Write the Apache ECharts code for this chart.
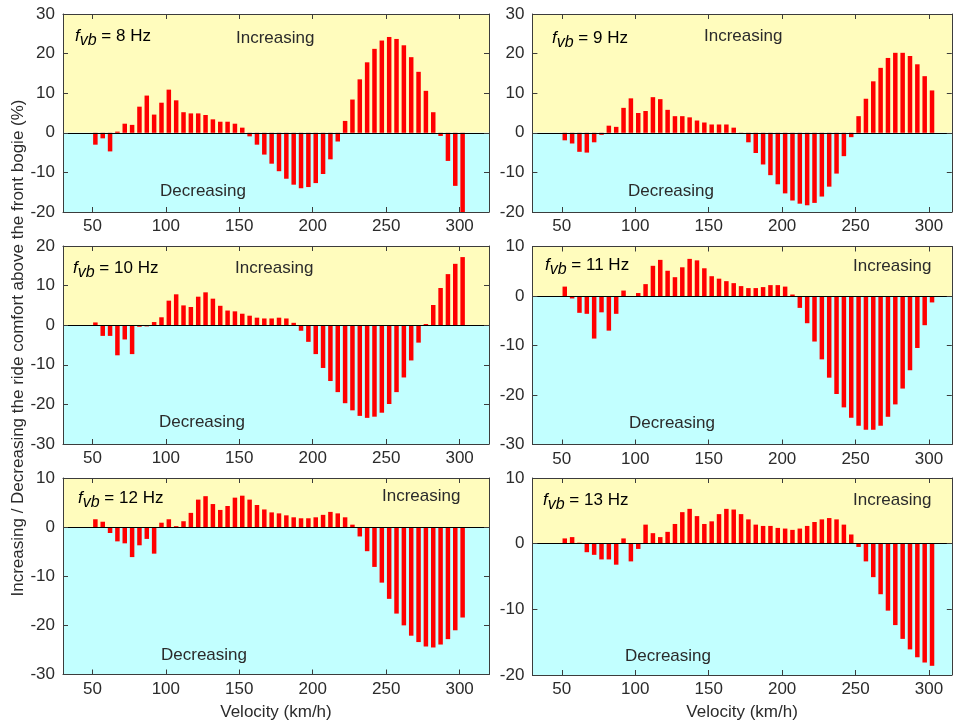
<!DOCTYPE html>
<html><head><meta charset="utf-8">
<script src="https://cdn.jsdelivr.net/npm/echarts@6/dist/echarts.min.js"></script>
<style>html,body{margin:0;padding:0;background:#fff}#c{width:953px;height:721px}</style>
</head><body><div id="c"></div>
<script>
// ---- data ----
const velocity = [50,55,60,65,70,75,80,85,90,95,100,105,110,115,120,125,130,135,140,145,150,155,160,165,170,175,180,185,190,195,200,205,210,215,220,225,230,235,240,245,250,255,260,265,270,275,280,285,290,295,300];
const freqLabels = ['8','9','10','11','12','13'];
const xTickLabels = [50,100,150,200,250,300];
const comfort8 = [-3.0,-1.4,-4.7,0.3,2.3,2.0,6.6,9.4,4.6,7.6,10.9,8.2,5.2,4.9,4.9,4.5,3.4,2.8,2.8,2.3,1.3,-0.9,-3.0,-5.5,-7.8,-9.7,-11.6,-13.1,-14.0,-13.7,-12.7,-10.4,-6.7,-2.2,3.0,8.4,13.5,17.8,21.2,23.3,24.2,23.7,22.1,19.1,15.4,10.6,5.2,-0.8,-7.1,-13.4,-20];
const comfort9 = [-1.9,-2.7,-4.8,-5.0,-2.4,-0.5,1.8,1.5,6.3,8.7,5.0,5.5,9.0,8.5,5.8,4.2,4.2,3.9,3.1,2.6,2.1,2.1,2.1,1.3,-0.3,-2.4,-5.1,-8.0,-10.7,-13.0,-15.3,-17.1,-17.9,-18.3,-17.7,-16.1,-13.6,-10.3,-5.9,-1.1,4.2,8.6,13.0,16.4,18.9,20.2,20.2,19.4,17.3,14.3,10.7];
const comfort10 = [0.7,-2.7,-2.7,-7.6,-3.6,-7.3,-0.4,-0.3,0.8,2.0,6.2,7.8,5.0,4.6,7.2,8.3,6.7,4.9,3.7,3.5,2.9,2.4,1.9,1.7,1.7,1.9,1.7,0.6,-1.4,-4.2,-7.3,-10.8,-14.1,-16.9,-19.7,-21.5,-22.9,-23.4,-23.1,-22.1,-19.9,-16.9,-13.2,-8.9,-4.4,0.3,5.1,9.4,12.9,15.5,17.2];
const comfort11 = [1.9,-0.5,-3.4,-3.6,-8.6,-3.3,-7.0,-3.6,1.1,0,0.6,2.4,6.1,7.3,5.1,3.8,5.8,7.5,7.2,5.6,4.0,3.5,3.0,2.6,2.0,1.6,1.6,1.8,2.2,2.2,1.9,0.3,-2.4,-5.5,-9.2,-12.8,-16.5,-19.8,-22.5,-24.6,-26.2,-27.0,-27.0,-26.2,-24.4,-21.9,-18.7,-15.0,-10.5,-5.9,-1.3];
const comfort12 = [1.6,1.1,-1.2,-2.9,-3.3,-6.1,-3.7,-2.4,-5.4,0.9,1.6,0.2,1.2,2.9,5.6,6.3,4.7,3.5,4.3,6.0,6.4,5.6,4.5,3.6,3.0,2.8,2.4,2.0,1.8,1.8,2.0,2.5,3.1,2.8,2.0,0.5,-1.9,-4.9,-8.1,-11.3,-14.6,-17.6,-20.0,-22.1,-23.4,-24.3,-24.5,-23.9,-22.8,-21.0,-18.4];
const comfort13 = [0.8,1.0,0.15,-1.3,-1.7,-2.4,-2.4,-3.2,0.8,-2.7,-0.8,2.9,1.6,1.0,1.8,3.0,4.8,5.3,4.2,3.0,3.4,4.5,5.3,5.2,4.5,3.7,2.9,2.7,2.7,2.4,2.3,2.1,2.3,2.7,3.3,3.7,3.9,3.7,2.9,1.4,-0.5,-2.7,-5.1,-7.7,-10.2,-12.4,-14.5,-16.1,-17.3,-18.1,-18.6];
const yMin = [-20,-20,-30,-30,-30,-20];
const yMax = [30,30,20,10,10,10];

// ---- layout / style ----
const seriesValues = [comfort8,comfort9,comfort10,comfort11,comfort12,comfort13];
const FONT = '"Liberation Sans", Arial, Helvetica, sans-serif';
const TXT = '#2b2b2b';
const AX = '#3c3c3c';
const YELLOW = '#fffcbd';
const CYAN = '#c2ffff';
const grids = [
  {left:63, top:14, width:426, height:198},
  {left:532.4, top:14, width:419.4, height:198},
  {left:63, top:246, width:426, height:198},
  {left:532.4, top:246.5, width:419.4, height:198},
  {left:63, top:478, width:426, height:196.5},
  {left:532.4, top:478, width:419.4, height:197}
];
const xMaxs = [320,315.5,320,315.5,320,315.5];
const ann = [
  {f:[75,36], inc:[236,38], dec:[160,191]},
  {f:[552,38], inc:[704,36], dec:[628,191]},
  {f:[73,268], inc:[235,268], dec:[159,422]},
  {f:[545,265], inc:[853,266], dec:[629,423]},
  {f:[78,498], inc:[382,496], dec:[161,655]},
  {f:[543,500], inc:[853,500], dec:[625,656]}
];

const xAxes = [], yAxes = [], series = [], graphic = [];
grids.forEach((g, i) => {
  g.outerBoundsMode = 'none';
  g.containLabel = false;
  const isBottom = i >= 4;
  ['bottom','top'].forEach(pos => {
    const ax = {
      type:'value', gridIndex:i, position:pos, min:30, max:xMaxs[i], z:10,
      axisLine:{show:true, onZero:false, lineStyle:{color:AX, width:1}},
      axisTick:{show:true, inside:true, length:5, customValues:xTickLabels, lineStyle:{color:AX}},
      axisLabel:{show:pos==='bottom', customValues:xTickLabels, color:TXT, fontSize:17, fontFamily:FONT, margin:6},
      splitLine:{show:false}
    };
    if (pos === 'bottom' && isBottom) {
      ax.name = 'Velocity (km/h)';
      ax.nameLocation = 'middle';
      ax.nameGap = 29;
      ax.nameTextStyle = {color:TXT, fontSize:17, fontFamily:FONT};
    }
    xAxes.push(ax);
  });
  ['left','right'].forEach(pos => {
    yAxes.push({
      type:'value', gridIndex:i, position:pos, min:yMin[i], max:yMax[i], interval:10, z:10,
      axisLine:{show:true, onZero:false, lineStyle:{color:AX, width:1}},
      axisTick:{show:true, inside:true, length:5, lineStyle:{color:AX}},
      axisLabel:{show:pos==='left', color:TXT, fontSize:17, fontFamily:FONT, margin:8, showMinLabel:true, showMaxLabel:true},
      splitLine:{show:false}
    });
  });
  // spacer series (shifts the red bars slightly right of the tick, as in the grouped original)
  series.push({type:'bar', xAxisIndex:2*i, yAxisIndex:2*i, data:[], barWidth:2, barGap:'200%', silent:true});
  series.push({
    type:'bar', xAxisIndex:2*i, yAxisIndex:2*i, barWidth:4.5, barGap:'200%',
    data: velocity.map((v, k) => [v, seriesValues[i][k]]),
    itemStyle:{color:'#ff0000'}, silent:true, clip:true,
    markArea:{silent:true, z:1, data:[
      [{yAxis:0, itemStyle:{color:YELLOW, opacity:1}}, {yAxis:yMax[i]}],
      [{yAxis:yMin[i], itemStyle:{color:CYAN, opacity:1}}, {yAxis:0}]
    ]},
    markLine:{silent:true, symbol:['none','none'], label:{show:false}, z:6,
      lineStyle:{color:'#000', width:1, type:'solid'}, data:[{yAxis:0}]}
  });
  const a = ann[i];
  graphic.push({type:'text', x:a.f[0], y:a.f[1], z:20, style:{
    text:'{f|f}{s|vb}{n| = ' + freqLabels[i] + ' Hz}', verticalAlign:'middle', align:'left',
    rich:{
      f:{fontStyle:'italic', fontSize:17, fontFamily:FONT, color:TXT, lineHeight:26, verticalAlign:'middle'},
      s:{fontStyle:'italic', fontSize:16, fontFamily:FONT, color:TXT, lineHeight:14, verticalAlign:'bottom'},
      n:{fontSize:17, fontFamily:FONT, color:TXT, lineHeight:26, verticalAlign:'middle'}
    }
  }});
  graphic.push({type:'text', x:a.inc[0], y:a.inc[1], z:20, style:{text:'Increasing', fill:TXT, fontSize:17, fontFamily:FONT, align:'left', verticalAlign:'middle'}});
  graphic.push({type:'text', x:a.dec[0], y:a.dec[1], z:20, style:{text:'Decreasing', fill:TXT, fontSize:17, fontFamily:FONT, align:'left', verticalAlign:'middle'}});
});
graphic.push({type:'text', x:18, y:348, rotation:Math.PI/2, z:20, style:{
  text:'Increasing / Decreasing the ride comfort above the front bogie (%)', fill:TXT, fontSize:17, fontFamily:FONT, align:'center', verticalAlign:'middle'}});

const chart = echarts.init(document.getElementById('c'), null, {renderer:'canvas'});
chart.setOption({
  animation:false,
  backgroundColor:'#ffffff',
  grid:grids, xAxis:xAxes, yAxis:yAxes, series:series, graphic:graphic
});
</script>
</body></html>
